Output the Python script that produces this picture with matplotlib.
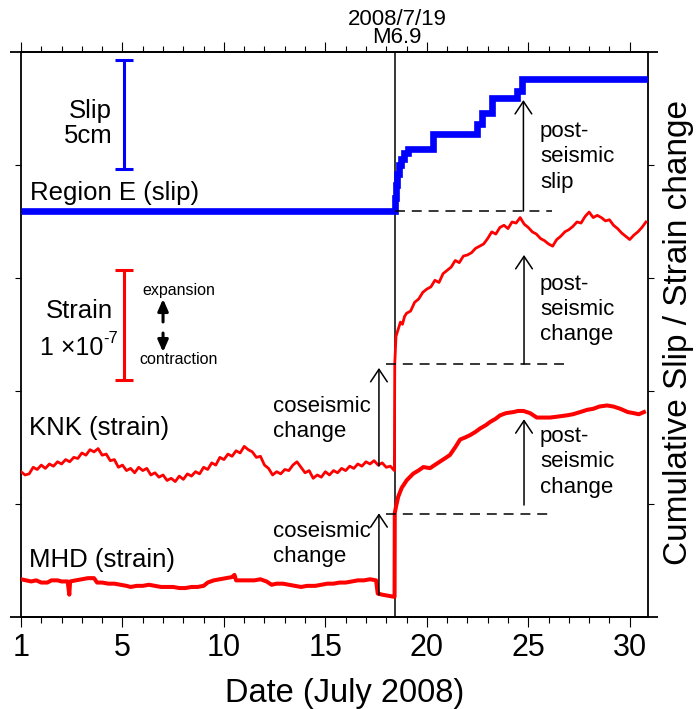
import numpy as np
import matplotlib
matplotlib.use('Agg')
import matplotlib.pyplot as plt

plt.rcParams['font.family'] = 'Liberation Sans'

# x axis: days after 1 July 2008 00:00 (tick "1" sits at day 0)
EVENT_DAY = 18.42

# Region E cumulative slip (cm), step function
slip_day = [0, 18.42, 18.47, 18.53, 18.62, 18.73, 18.89, 19.06, 20.29, 22.46, 22.71, 23.20, 24.43, 24.68, 30.9]
slip_cm = [0, 0.6, 1.2, 1.7, 2.1, 2.4, 2.65, 2.82, 3.52, 4.00, 4.49, 5.15, 5.49, 6.03, 6.03]

# KNK strain (1e-9), relative to 1 July
knk_pre_day = np.arange(0, 18.41, 0.2)
knk_pre = [0, -3, -2, 4, 2, 6, 3, 7, 5, 9,
           7, 11, 9, 13, 12, 17, 15, 20, 18, 21,
           15, 16, 10, 11, 4, 6, 1, 3, -1, 4,
           1, 3, -3, -1, -5, -3, -8, -6, -9, -4,
           -7, -2, -4, 0, -2, 4, 2, 8, 6, 13,
           11, 16, 14, 19, 17, 23, 20, 18, 13, 14,
           6, 3, -3, 0, -2, 2, 1, 6, 9, 4,
           -1, 1, -6, -3, -5, 0, -3, 1, -1, 3,
           1, 5, 3, 7, 5, 9, 7, 10, 6, 8,
           4, 5, 1]
knk_post_day = np.concatenate([[18.42, 18.48, 18.6, 18.7, 18.8, 18.9], np.arange(19.0, 30.81, 0.2)])
knk_post = [98, 123, 130, 136, 134, 141,
            144, 146, 154, 157, 163, 166, 168, 174, 172, 180,
            183, 186, 192, 190, 196, 197, 199, 203, 205, 207,
            212, 218, 216, 222, 224, 221, 227, 226, 231, 225,
            222, 218, 216, 212, 210, 207, 205, 211, 214, 218,
            220, 223, 227, 226, 232, 236, 231, 233, 231, 228,
            229, 224, 221, 217, 214, 211, 215, 218, 222, 227]

# MHD strain (1e-9), relative to 1 July
mhd_pre_day = [0.0, 0.25, 0.5, 0.75, 1.0, 1.3, 1.5, 1.8, 2.0, 2.3, 2.38, 2.42, 2.7, 3.0, 3.3, 3.6,
               3.75, 4.0, 4.3, 4.6, 4.9, 5.2, 5.4, 5.7, 6.0, 6.3, 6.6, 6.9, 7.2, 7.5, 7.8, 8.1,
               8.4, 8.7, 9.0, 9.2, 9.5, 9.8, 10.1, 10.4, 10.52, 10.6, 10.9, 11.2, 11.5, 11.8,
               12.1, 12.35, 12.6, 12.9, 13.2, 13.5, 13.8, 14.1, 14.5, 14.8, 15.1, 15.4, 15.7,
               16.0, 16.3, 16.6, 16.9, 17.2, 17.5, 17.58, 17.8, 18.1, 18.41]
mhd_pre = [0, -1, -2, -1, -3, -3, -1, -1, -2, -2, -14, -2, -1, 0, 1, 1,
           -3, -3, -4, -4, -5, -6, -7, -6, -6, -5, -6, -7, -7, -7, -8, -8,
           -7, -7, -6, -3, -1, 0, 1, 2, 4, -1, -1, -1, -1, 0,
           -2, -5, -4, -4, -5, -6, -7, -6, -6, -5, -4, -4, -3,
           -3, -2, -1, -1, 0, -1, -13, -14, -15, -16]
mhd_post_day = [18.42, 18.48, 18.59, 18.76, 19.01, 19.33, 19.6, 19.83, 20.16, 20.4, 20.65, 20.9,
                21.14, 21.4, 21.64, 21.9, 22.13, 22.4, 22.62, 22.9, 23.12, 23.4, 23.61, 23.9,
                24.27, 24.5, 24.76, 25.09, 25.42, 25.7, 26.08, 26.5, 26.9, 27.2, 27.56, 27.9,
                28.21, 28.5, 28.88, 29.2, 29.53, 29.9, 30.19, 30.45, 30.7]
mhd_post = [60, 66, 75, 83, 90, 96, 99, 102, 101, 104, 107, 110,
            113, 120, 127, 129, 131, 134, 137, 140, 143, 146, 149, 151,
            152, 153, 153, 151, 147, 147, 147, 148, 149, 150, 152, 154,
            155, 157, 158, 157, 155, 152, 151, 150, 152]

tick_pos = [0, 5, 10, 15, 20, 25, 30]
tick_lab = ['1', '5', '10', '15', '20', '25', '30']

# plot units: 1e-7 strain and 5 cm slip both span about one division
STRAIN_UNIT = 0.9735 / 100.   # per 1e-9
SLIP_UNIT = 0.1935            # per cm
SLIP_BASE = 3.593
KNK_BASE = 1.286
MHD_BASE = 0.334

RED = '#ff0000'
BLUE = '#0000ff'

fig = plt.figure(figsize=(6.99, 7.09), dpi=100)
ax = fig.add_axes([21/699., 92/709., 627/699., 565/709.])

ax.axvline(EVENT_DAY, color='k', lw=1.1, zorder=2)

ax.step(slip_day, SLIP_BASE + np.array(slip_cm) * SLIP_UNIT, where='post', color=BLUE, lw=4.8,
        solid_joinstyle='miter', solid_capstyle='butt', zorder=4)

knk_day = np.concatenate([knk_pre_day, knk_post_day])
knk = np.concatenate([knk_pre, knk_post])
ax.plot(knk_day, KNK_BASE + knk * STRAIN_UNIT, color=RED, lw=2.0, zorder=3)

mhd_day = np.concatenate([mhd_pre_day, mhd_post_day])
mhd = np.concatenate([mhd_pre, mhd_post])
ax.plot(mhd_day, MHD_BASE + mhd * STRAIN_UNIT, color=RED, lw=2.9, zorder=3)

# scale bars
ax.errorbar([5.06], [3.962 + 2.5 * SLIP_UNIT], yerr=[2.5 * SLIP_UNIT], color=BLUE, lw=2.2,
            capsize=6.5, capthick=2.2)
ax.errorbar([5.06], [2.097 + 50 * STRAIN_UNIT], yerr=[50 * STRAIN_UNIT], color=RED, lw=2.2,
            capsize=6.5, capthick=2.2)

big = 18.5
small = 16
ax.text(4.47, 4.413, 'Slip', ha='right', va='baseline', fontsize=big)
ax.text(4.50, 4.192, '5cm', ha='right', va='baseline', fontsize=big)
ax.text(0.42, 3.690, 'Region E (slip)', va='baseline', fontsize=big)
ax.text(4.53, 2.643, 'Strain', ha='right', va='baseline', fontsize=big)
ax.text(4.07, 2.319, '1 \u00d710', ha='right', va='baseline', fontsize=18)
ax.text(4.07, 2.425, '-7', ha='left', va='baseline', fontsize=12)
ax.text(7.78, 2.85, 'expansion', ha='center', va='baseline', fontsize=11.5)
ax.text(7.78, 2.239, 'contraction', ha='center', va='baseline', fontsize=11.5)
ax.text(0.39, 1.611, 'KNK (strain)', va='baseline', fontsize=big)
ax.text(0.38, 0.440, 'MHD (strain)', va='baseline', fontsize=big)

fat = dict(arrowstyle='-|>,head_length=0.5,head_width=0.22', lw=2.2, color='k',
           mutation_scale=14, shrinkA=0, shrinkB=0)
ax.annotate('', xy=(7.0, 2.814), xytext=(7.0, 2.611), arrowprops=fat)
ax.annotate('', xy=(7.0, 2.345), xytext=(7.0, 2.513), arrowprops=fat)

# coseismic / postseismic annotations
thin = dict(arrowstyle='->,head_length=0.45,head_width=0.3', lw=1.1, color='k',
            mutation_scale=20, shrinkA=0, shrinkB=0)
arrows = [
    (24.76, SLIP_BASE, 4.575),
    (17.64, 1.336, 2.204),
    (24.79, 2.239, 3.204),
    (17.64, 0.195, 0.918),
    (24.79, 0.991, 1.750),
]
for x, y0, y1 in arrows:
    ax.annotate('', xy=(x, y1), xytext=(x, y0), arrowprops=thin, zorder=5)

for x0, x1, y in [(EVENT_DAY, 26.16, SLIP_BASE), (18.0, 27.06, 2.239), (18.0, 26.23, 0.909)]:
    ax.plot([x0, x1], [y, y], color='k', lw=1.1, dashes=(6.5, 4.5), zorder=5)

notes = [
    (12.43, [1.817, 1.590], ['coseismic', 'change']),
    (12.43, [0.711, 0.484], ['coseismic', 'change']),
    (25.58, [4.250, 4.029, 3.794], ['post-', 'seismic', 'slip']),
    (25.58, [2.894, 2.673, 2.451], ['post-', 'seismic', 'change']),
    (25.58, [1.551, 1.325, 1.095], ['post-', 'seismic', 'change']),
]
for x, ys, words in notes:
    for y, w in zip(ys, words):
        ax.text(x, y, w, va='baseline', fontsize=small)

# event date and magnitude above the frame
ax.text(18.53, 5.035, '2008/7/19\nM6.9', ha='center', va='bottom', multialignment='center',
        linespacing=0.82, fontsize=16, clip_on=False)

ax.set_xlim(0, 30.9)
ax.set_ylim(0, 5)
ax.set_xticks(tick_pos)
ax.set_xticklabels(tick_lab)
ax.set_xticks(np.arange(0, 31), minor=True)
ax.set_yticks([1, 2, 3, 4])
ax.tick_params(axis='x', which='major', direction='out', length=7.5, width=0.8, top=True,
               labelsize=22, pad=4)
ax.tick_params(axis='x', which='minor', direction='out', length=4, width=0.8, top=True)
ax.tick_params(axis='y', direction='out', length=4.3, width=0.8, right=True,
               labelleft=False, labelright=False)
for s in ax.spines.values():
    s.set_linewidth(1.3)
for yy in (0, 1):
    ax.plot([-0.0175, 1.016], [yy, yy], transform=ax.transAxes, color='k', lw=1.3,
            clip_on=False, solid_capstyle='butt')

ax.set_xlabel('Date (July 2008)', fontsize=23.5, va='baseline')
ax.xaxis.set_label_coords(0.5167, -0.1504)
ax.yaxis.set_label_position('right')
ax.set_ylabel('Cumulative Slip / Strain change', fontsize=24, rotation=90, va='center', ha='center')
ax.yaxis.set_label_coords(1.048, 0.5035)

plt.savefig('out.png', dpi=100)
